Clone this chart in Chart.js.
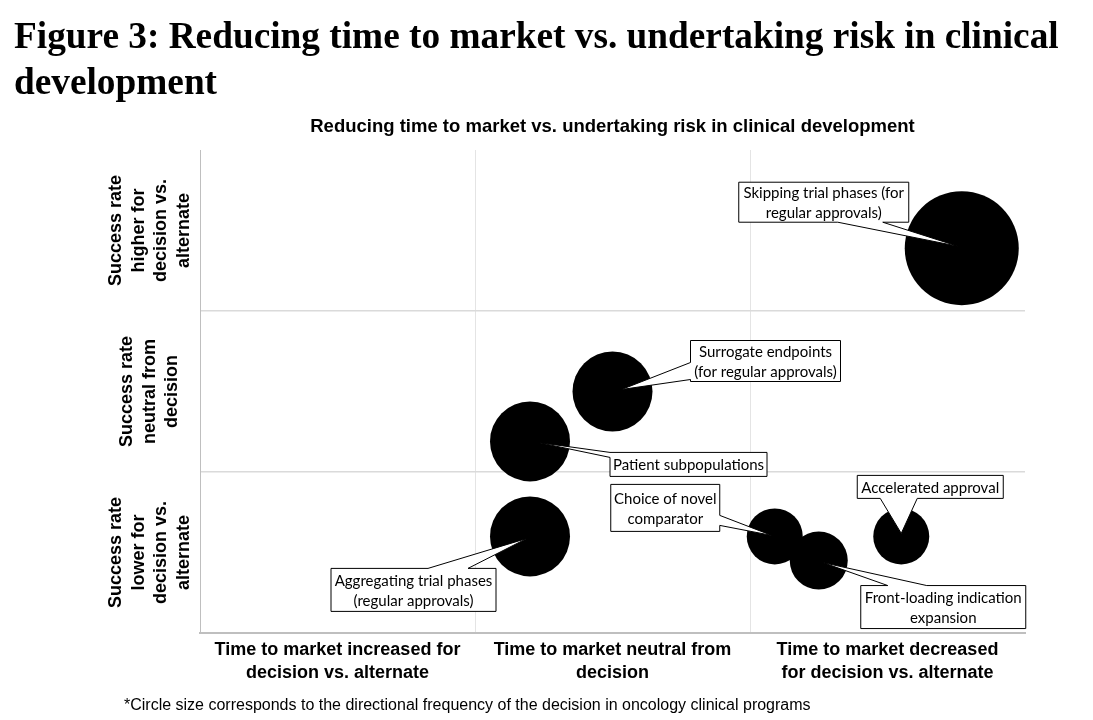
<!DOCTYPE html>
<html>
<head>
<meta charset="utf-8">
<title>Reducing time to market vs. undertaking risk</title>
<script src="https://cdn.jsdelivr.net/npm/chart.js@4.4.1/dist/chart.umd.min.js"></script>
<style>
  body { margin: 0; background: #fff; }
  #wrap { position: relative; width: 1093px; height: 720px; overflow: hidden; }
  h1 {
    position: absolute; left: 14px; top: 13px; margin: 0;
    font: bold 37.3px/46px "Liberation Serif", "Times New Roman", serif;
    color: #000; white-space: nowrap;
  }
  canvas { position: absolute; left: 0; top: 0; }
</style>
</head>
<body>
<div id="wrap">
  <canvas id="chart" width="1093" height="720"></canvas>
  <h1>Figure 3: Reducing time to market vs. undertaking risk in clinical<br>development</h1>
</div>
<script>
// Data
const decisions = [
  ['Skipping trial phases (for', 'regular approvals)'],
  ['Surrogate endpoints', '(for regular approvals)'],
  ['Patient subpopulations'],
  ['Aggregating trial phases', '(regular approvals)'],
  ['Choice of novel', 'comparator'],
  ['Front-loading indication', 'expansion'],
  ['Accelerated approval']
];
const timeToMarket = [2.77, 1.50, 1.20, 1.20, 2.09, 2.25, 2.55];   // 0..3, left = increased, right = decreased
const successRate = [2.39, 1.50, 1.19, 0.60, 0.60, 0.45, 0.60];    // 0..3, bottom = lower, top = higher
const circleSize = [57, 40, 40, 40, 28, 29, 28];                   // directional frequency (bubble radius)

const xCategories = [
  ['Time to market increased for', 'decision vs. alternate'],
  ['Time to market neutral from', 'decision'],
  ['Time to market decreased', 'for decision vs. alternate']
];
const yCategories = [
  ['Success rate', 'lower for', 'decision vs.', 'alternate'],
  ['Success rate', 'neutral from', 'decision'],
  ['Success rate', 'higher for', 'decision vs.', 'alternate']
];
const chartTitle = 'Reducing time to market vs. undertaking risk in clinical development';
const footnote = '*Circle size corresponds to the directional frequency of the decision in oncology clinical programs';

// Callout layout (pixels, relative to bubble centre)
const callouts = [
  { box: [-223, -66, 170, 40], side: 'bottom', base: [99, 144], tip: [-4, -2] },
  { box: [78, -51, 150, 41], side: 'left', base: [22, 39], tip: [9, -2] },
  { box: [80, 11, 157, 24], side: 'left', base: [0, 5], tip: [8, 1] },
  { box: [-199, 32, 165, 43], side: 'top', base: [97, 137], tip: [-3, 2] },
  { box: [-164, -52, 109, 47], side: 'right', base: [31, 41], tip: [-3, -1] },
  { box: [42, 25, 165, 43], side: 'top', base: [27, 66], tip: [4, 2] },
  { box: [-44, -61, 146, 23], side: 'bottom', base: [23, 60], tip: [0, -3] }
];

const points = timeToMarket.map((x, i) => ({ x: x, y: successRate[i], r: circleSize[i] }));

function drawCallout(ctx, cx, cy, c, lines) {
  const x = cx + c.box[0], y = cy + c.box[1], w = c.box[2], h = c.box[3];
  const a = c.base[0], b = c.base[1];
  const tx = cx + c.tip[0], ty = cy + c.tip[1];
  let pts = [];
  pts.push([x, y]);
  if (c.side === 'top') pts.push([x + a, y], [tx, ty], [x + b, y]);
  pts.push([x + w, y]);
  if (c.side === 'right') pts.push([x + w, y + a], [tx, ty], [x + w, y + b]);
  pts.push([x + w, y + h]);
  if (c.side === 'bottom') pts.push([x + b, y + h], [tx, ty], [x + a, y + h]);
  pts.push([x, y + h]);
  if (c.side === 'left') pts.push([x, y + b], [tx, ty], [x, y + a]);

  ctx.save();
  ctx.beginPath();
  pts.forEach((p, i) => i ? ctx.lineTo(p[0], p[1]) : ctx.moveTo(p[0], p[1]));
  ctx.closePath();
  ctx.fillStyle = '#fff';
  ctx.fill();
  ctx.strokeStyle = '#000';
  ctx.lineWidth = 1;
  ctx.stroke();

  ctx.fillStyle = '#000';
  ctx.font = '15px Lato, "Liberation Sans", sans-serif';
  ctx.textAlign = 'center';
  ctx.textBaseline = 'middle';
  const lh = 20;
  lines.forEach((t, i) => {
    ctx.fillText(t, x + w / 2, y + h / 2 + (i - (lines.length - 1) / 2) * lh + 1);
  });
  ctx.restore();
}

const textPlugin = {
  id: 'quadrantText',
  afterDatasetsDraw(chart) {
    const ctx = chart.ctx;
    const xs = chart.scales.x, ys = chart.scales.y;
    const area = chart.chartArea;

    ctx.save();
    // chart title
    ctx.fillStyle = '#000';
    ctx.font = 'bold 18.5px "Liberation Sans", Arial, sans-serif';
    ctx.textAlign = 'center';
    ctx.textBaseline = 'alphabetic';
    ctx.fillText(chartTitle, (area.left + area.right) / 2, 132);

    // x categories
    ctx.font = 'bold 18px "Liberation Sans", Arial, sans-serif';
    xCategories.forEach((lines, i) => {
      const px = xs.getPixelForValue(i + 0.5);
      lines.forEach((t, j) => ctx.fillText(t, px, area.bottom + 22 + j * 22.5));
    });

    // y categories (rotated)
    ctx.textBaseline = 'middle';
    yCategories.forEach((lines, i) => {
      const py = ys.getPixelForValue(i + 0.5);
      ctx.save();
      ctx.translate(area.left - 50, py);
      ctx.rotate(-Math.PI / 2);
      lines.forEach((t, j) => ctx.fillText(t, 0, (j - (lines.length - 1) / 2) * 22.5));
      ctx.restore();
    });

    // footnote
    ctx.font = '16px "Liberation Sans", Arial, sans-serif';
    ctx.textAlign = 'left';
    ctx.textBaseline = 'alphabetic';
    ctx.fillText(footnote, 124, 710);
    ctx.restore();

    // callouts
    const meta = chart.getDatasetMeta(0);
    meta.data.forEach((el, i) => drawCallout(ctx, el.x, el.y, callouts[i], decisions[i]));
  }
};

new Chart(document.getElementById('chart'), {
  type: 'bubble',
  data: {
    datasets: [{
      data: points,
      backgroundColor: '#000',
      borderWidth: 0,
      hoverRadius: 0,
      clip: false
    }]
  },
  options: {
    responsive: false,
    animation: false,
    events: [],
    layout: { padding: { left: 200, top: 150, right: 68, bottom: 87 } },
    plugins: { legend: { display: false }, tooltip: { enabled: false }, title: { display: false } },
    scales: {
      x: {
        type: 'linear', min: 0, max: 3,
        ticks: { stepSize: 1, display: false },
        grid: {
          drawTicks: false,
          color: ctx => (ctx.tick && ctx.tick.value === 3) ? 'rgba(0,0,0,0)' : '#e4e4e4',
          lineWidth: 1
        },
        border: { color: '#bfbfbf', width: 2 }
      },
      y: {
        type: 'linear', min: 0, max: 3,
        ticks: { stepSize: 1, display: false },
        grid: {
          drawTicks: false,
          color: ctx => (ctx.tick && ctx.tick.value === 3) ? 'rgba(0,0,0,0)' : '#dadada',
          lineWidth: 1.5
        },
        border: { color: '#bfbfbf', width: 1 }
      }
    }
  },
  plugins: [textPlugin]
});
</script>
</body>
</html>
